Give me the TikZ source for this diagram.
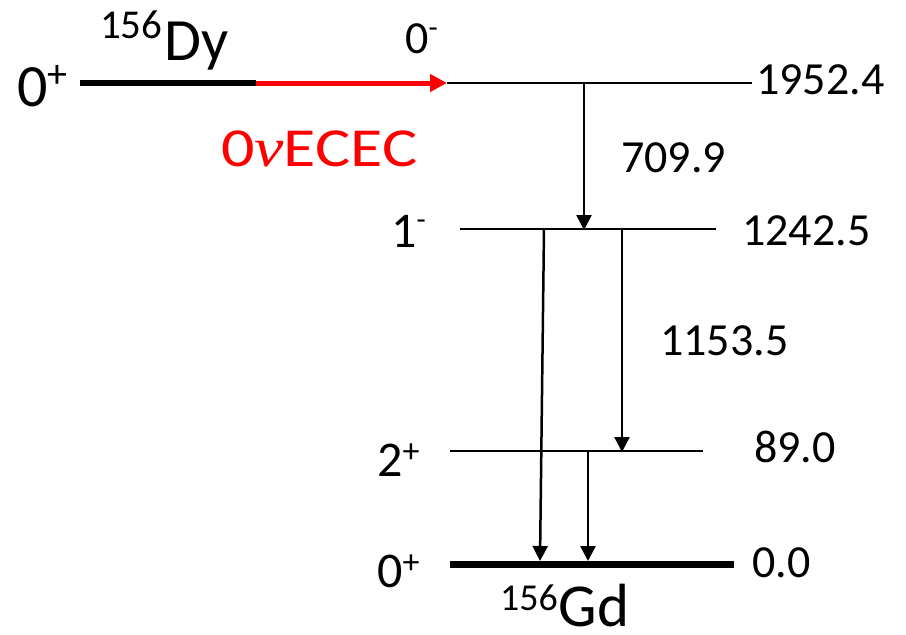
\documentclass[tikz,border=0pt]{standalone}
\usepackage{fontspec}
\setmainfont{Carlito}
\newfontfamily\grkfont{Liberation Serif}
\usetikzlibrary{arrows.meta}
\newcommand{\sz}[1]{\fontsize{#1}{#1}\selectfont}
\begin{document}
\begin{tikzpicture}[x=1pt,y=-1pt,
  lvl/.style={line width=2.5pt},
  gslvl/.style={line width=7pt},
  gam/.style={line width=2.5pt,-{Triangle[length=15pt,width=15pt]}},
  redarr/.style={line width=5pt,red,-{Triangle[length=17pt,width=17pt]}},
  lbl/.style={inner sep=0pt,anchor=base west}]
\useasboundingbox (0,0) rectangle (906,635);
% coordinates
\coordinate (dyA) at (80,83);
\coordinate (dyB) at (256,83);
\coordinate (dyC) at (447,83);
\coordinate (dyD) at (752,83);
\coordinate (l1A) at (460,229);
\coordinate (l1B) at (716,229);
\coordinate (l2A) at (450,451);
\coordinate (l2B) at (703,451);
\coordinate (gA) at (450,564);
\coordinate (gB) at (734,564);
\coordinate (t1s) at (584,83);
\coordinate (t1e) at (584,230);
\coordinate (t2s) at (544,229);
\coordinate (t2e) at (540,561);
\coordinate (t3s) at (622,229);
\coordinate (t3e) at (622,452);
\coordinate (t4s) at (588,451);
\coordinate (t4e) at (588,561);
% levels
\draw[line width=6pt] (dyA) -- (dyB);
\draw[redarr] (dyB) -- (dyC);
\draw[lvl] (dyC) -- (dyD);
\draw[lvl] (l1A) -- (l1B);
\draw[lvl] (l2A) -- (l2B);
\draw[gslvl] (gA) -- (gB);
% transitions
\draw[gam] (t1s) -- (t1e);
\draw[gam] (t2s) -- (t2e);
\draw[gam] (t3s) -- (t3e);
\draw[gam] (t4s) -- (t4e);
% labels
\node[lbl] (sp0) at (17,106) {\sz{60}0\raisebox{19pt}{\sz{40}+}};
\node[lbl] (dy) at (100,60) {\raisebox{22pt}{\sz{41}156}\kern2pt\sz{60}Dy};
\node[lbl] (sp1) at (405,53) {\sz{46}0\raisebox{16pt}{\sz{30}-}};
\node[lbl,red] (ecec) at (221,166) {\scalebox{1.2}[1]{\sz{55}0{\grkfont\itshape ν}ECEC}};
\node[lbl] (e1) at (756,94) {\sz{46}1952.4};
\node[lbl] (g1) at (621,172) {\sz{46}709.9};
\node[lbl] (e2) at (742,245) {\sz{46}1242.5};
\node[lbl] (g2) at (660,355) {\sz{46}1153.5};
\node[lbl] (e3) at (754,462) {\sz{46}89.0};
\node[lbl] (e4) at (752,577) {\sz{46}0.0};
\node[lbl] (sp2) at (391,247) {\sz{50}1\raisebox{18pt}{\sz{30}-}};
\node[lbl] (sp3) at (377,476) {\sz{50}2\raisebox{14pt}{\sz{34}+}};
\node[lbl] (sp4) at (377,587) {\sz{50}0\raisebox{14pt}{\sz{34}+}};
\node[lbl] (gd) at (500,626) {\raisebox{16pt}{\sz{38}156}\kern1pt\sz{61}Gd};
\end{tikzpicture}
\end{document}
